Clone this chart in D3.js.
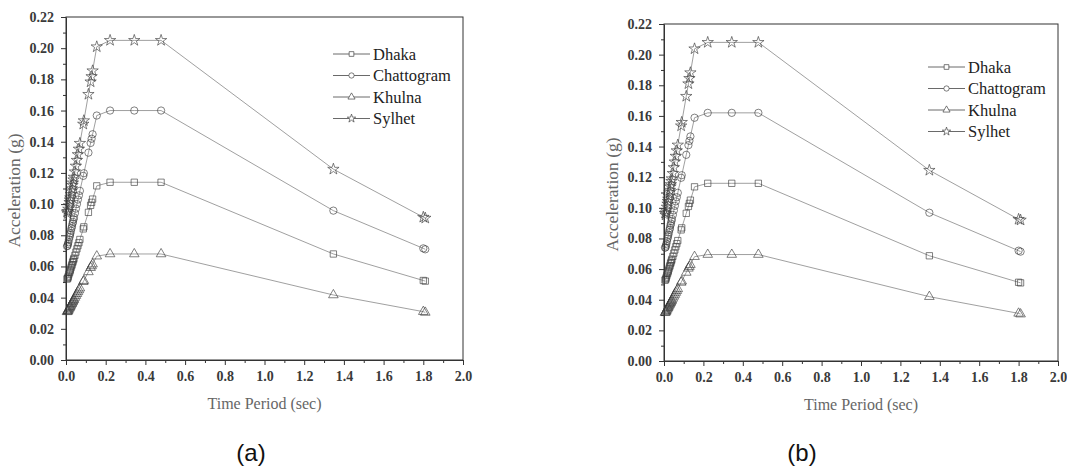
<!DOCTYPE html>
<html lang="en">
<head>
  <meta charset="UTF-8"/>
  <title>Acceleration vs Time Period</title>
  <script src="https://d3js.org/d3.v7.min.js"></script>
  <style>
    body { margin: 0; background: #fff; }
    svg { display: block; }
    svg text.serif { font-family: "Liberation Serif", serif; }
    svg .tick text { font-family: "Liberation Serif", serif; font-weight: bold; font-size: 14px; }
  </style>
</head>
<body>
<script>

// periods (sec) shared by every series
var periods = [0.005, 0.008, 0.010, 0.012, 0.015, 0.018, 0.020, 0.022, 0.025, 0.028, 0.030,
               0.033, 0.035, 0.038, 0.040, 0.045, 0.050, 0.055, 0.060, 0.065, 0.070,
               0.087, 0.090, 0.113, 0.124, 0.129, 0.134, 0.155, 0.222, 0.344, 0.479,
               1.347, 1.800, 1.810];

// panel (a)
var dhakaA = [0.0520, 0.0522, 0.0530, 0.0538, 0.0551, 0.0562, 0.0571, 0.0579, 0.0591, 0.0603, 0.0611,
              0.0624, 0.0632, 0.0643, 0.0652, 0.0671, 0.0692, 0.0713, 0.0733, 0.0752, 0.0773,
              0.0841, 0.0854, 0.0947, 0.0992, 0.1011, 0.1032, 0.1117, 0.114, 0.114, 0.114,
              0.0680, 0.0510, 0.0506];
var chattogramA = [0.0730, 0.0733, 0.0744, 0.0755, 0.0773, 0.0789, 0.0802, 0.0813, 0.0829, 0.0846, 0.0858,
              0.0875, 0.0886, 0.0902, 0.0915, 0.0942, 0.0971, 0.1000, 0.1029, 0.1056, 0.1085,
              0.1181, 0.1198, 0.1330, 0.1392, 0.1419, 0.1448, 0.1568, 0.160, 0.160, 0.160,
              0.0958, 0.0716, 0.0710];
var khulnaA = [0.0309, 0.0311, 0.0316, 0.0321, 0.0328, 0.0335, 0.0341, 0.0345, 0.0352, 0.0360, 0.0364,
              0.0372, 0.0377, 0.0384, 0.0389, 0.0401, 0.0413, 0.0425, 0.0437, 0.0449, 0.0461,
              0.0502, 0.0509, 0.0565, 0.0592, 0.0603, 0.0615, 0.0666, 0.068, 0.068, 0.068,
              0.0417, 0.0310, 0.0305];
var sylhetA = [0.0950, 0.0939, 0.0953, 0.0968, 0.0990, 0.1011, 0.1027, 0.1041, 0.1062, 0.1084, 0.1099,
              0.1121, 0.1136, 0.1156, 0.1173, 0.1207, 0.1244, 0.1281, 0.1318, 0.1353, 0.1390,
              0.1513, 0.1535, 0.1704, 0.1784, 0.1818, 0.1855, 0.2009, 0.205, 0.205, 0.205,
              0.1224, 0.0916, 0.0910];

// panel (b)
var dhakaB = [0.0528, 0.0531, 0.0539, 0.0548, 0.0560, 0.0572, 0.0581, 0.0589, 0.0601, 0.0614, 0.0622,
              0.0635, 0.0643, 0.0654, 0.0664, 0.0683, 0.0704, 0.0725, 0.0746, 0.0766, 0.0786,
              0.0856, 0.0869, 0.0964, 0.1009, 0.1029, 0.1050, 0.1137, 0.116, 0.116, 0.116,
              0.0687, 0.0514, 0.0510];
var chattogramB = [0.0740, 0.0742, 0.0753, 0.0765, 0.0782, 0.0799, 0.0812, 0.0823, 0.0839, 0.0857, 0.0868,
              0.0886, 0.0897, 0.0914, 0.0927, 0.0954, 0.0983, 0.1013, 0.1042, 0.1069, 0.1098,
              0.1196, 0.1213, 0.1346, 0.1409, 0.1437, 0.1466, 0.1588, 0.162, 0.162, 0.162,
              0.0968, 0.0720, 0.0714];
var khulnaB = [0.0315, 0.0318, 0.0323, 0.0328, 0.0336, 0.0343, 0.0348, 0.0353, 0.0360, 0.0368, 0.0373,
              0.0380, 0.0385, 0.0392, 0.0398, 0.0409, 0.0422, 0.0434, 0.0447, 0.0459, 0.0471,
              0.0513, 0.0521, 0.0578, 0.0605, 0.0616, 0.0629, 0.0681, 0.0695, 0.0695, 0.0695,
              0.0420, 0.0311, 0.0306];
var sylhetB = [0.0965, 0.0953, 0.0967, 0.0982, 0.1005, 0.1025, 0.1042, 0.1057, 0.1077, 0.1100, 0.1115,
              0.1138, 0.1152, 0.1173, 0.1190, 0.1225, 0.1263, 0.1300, 0.1337, 0.1373, 0.1410,
              0.1535, 0.1558, 0.1728, 0.1810, 0.1845, 0.1882, 0.2038, 0.208, 0.208, 0.208,
              0.1245, 0.0925, 0.0920];

var cities = ["Dhaka", "Chattogram", "Khulna", "Sylhet"];
var xTicks = [0, 0.2, 0.4, 0.6, 0.8, 1.0, 1.2, 1.4, 1.6, 1.8, 2.0];
var yTicks = [0, 0.02, 0.04, 0.06, 0.08, 0.10, 0.12, 0.14, 0.16, 0.18, 0.20, 0.22];

var symbols = [d3.symbolSquare, d3.symbolCircle, d3.symbolTriangle, d3.symbolStar];
var symSize = [40, 42, 40, 40];

var svg = d3.select("body").append("svg")
            .attr("width", 1067)
            .attr("height", 475);

function drawPanel(p) {
  var x = d3.scaleLinear().domain([0, 2.0]).range([p.left, p.right]);
  var y = d3.scaleLinear().domain([0, 0.22]).range([p.bottom, p.top]);
  var g = svg.append("g");

  // frame
  g.append("rect")
   .attr("x", p.left).attr("y", p.top)
   .attr("width", p.right - p.left).attr("height", p.bottom - p.top)
   .attr("fill", "none").attr("stroke", "#333").attr("stroke-width", 1);

  // minor ticks
  g.append("g").attr("transform", "translate(0," + p.bottom + ")")
   .call(d3.axisBottom(x).tickValues(d3.range(0.1, 2.0, 0.2)).tickSize(3).tickFormat(""))
   .call(function(s) { s.select(".domain").remove(); });
  g.append("g").attr("transform", "translate(" + p.left + ",0)")
   .call(d3.axisLeft(y).tickValues(d3.range(0.01, 0.22, 0.02)).tickSize(3).tickFormat(""))
   .call(function(s) { s.select(".domain").remove(); });

  var xa = g.append("g").attr("transform", "translate(0," + p.bottom + ")")
   .call(d3.axisBottom(x).tickValues(xTicks).tickSize(5).tickSizeOuter(0).tickPadding(6)
         .tickFormat(d3.format(".1f")));
  var ya = g.append("g").attr("transform", "translate(" + p.left + ",0)")
   .call(d3.axisLeft(y).tickValues(yTicks).tickSize(5).tickSizeOuter(0).tickPadding(7)
         .tickFormat(d3.format(".2f")));

  [xa, ya].forEach(function(a) {
    a.attr("font-family", "Liberation Serif");
    a.selectAll("text").attr("fill", "#3a3a3a");
    a.select(".domain").attr("stroke", "#333");
  });
  g.selectAll(".tick line").attr("stroke", "#333");

  // axis titles
  g.append("text").attr("class", "serif")
   .attr("x", (p.left + p.right) / 2).attr("y", p.bottom + 49)
   .attr("text-anchor", "middle")
   .style("font-size", "16px").attr("fill", "#666")
   .text("Time Period (sec)");
  g.append("text").attr("class", "serif")
   .attr("transform", "translate(" + (p.left - 46) + "," + ((p.top + p.bottom) / 2 + 2) + ") rotate(-90)")
   .attr("text-anchor", "middle")
   .style("font-size", "17.5px").attr("fill", "#666")
   .text("Acceleration (g)");

  var line = d3.line()
               .x(function(d, i) { return x(periods[i]); })
               .y(function(d) { return y(d); });

  p.series.forEach(function(vals, k) {
    g.append("path").datum(vals)
     .attr("d", line)
     .attr("fill", "none").attr("stroke", "#888").attr("stroke-width", 0.8);

    g.selectAll(null).data(vals).enter().append("path")
     .attr("transform", function(d, i) { return "translate(" + x(periods[i]) + "," + y(d) + ")"; })
     .attr("d", d3.symbol().type(symbols[k]).size(symSize[k]))
     .attr("fill", "none").attr("stroke", "#3a3a3a").attr("stroke-width", 0.8)
     .attr("stroke-opacity", 0.8);
  });

  // legend
  var lg = g.append("g").attr("transform", "translate(" + (p.right - 130) + "," + (p.top + p.legTop) + ")");
  cities.forEach(function(c, k) {
    var row = lg.append("g").attr("transform", "translate(0," + (k * 21.5) + ")");
    row.append("line").attr("x1", 0).attr("x2", 37).attr("y1", 0).attr("y2", 0)
       .attr("stroke", "#444").attr("stroke-width", 0.8);
    row.append("path").attr("transform", "translate(18.5,0)")
       .attr("d", d3.symbol().type(symbols[k]).size(22))
       .attr("fill", "#fff").attr("stroke", "#444").attr("stroke-width", 0.7);
    row.append("text").attr("class", "serif").attr("x", 40).attr("y", 5.5)
       .style("font-size", "16.5px").attr("fill", "#222")
       .text(c);
  });

  svg.append("text")
     .attr("x", p.labelX).attr("y", 461)
     .attr("text-anchor", "middle")
     .style("font-family", "'Liberation Sans', Arial, sans-serif")
     .style("font-size", "24px").attr("fill", "#111")
     .text(p.label);
}

drawPanel({ left: 66, right: 463, top: 17, bottom: 360, legTop: 37, labelX: 251, label: "(a)",
            series: [dhakaA, chattogramA, khulnaA, sylhetA] });
drawPanel({ left: 664, right: 1058, top: 24, bottom: 361, legTop: 43, labelX: 802, label: "(b)",
            series: [dhakaB, chattogramB, khulnaB, sylhetB] });

</script>
</body>
</html>
